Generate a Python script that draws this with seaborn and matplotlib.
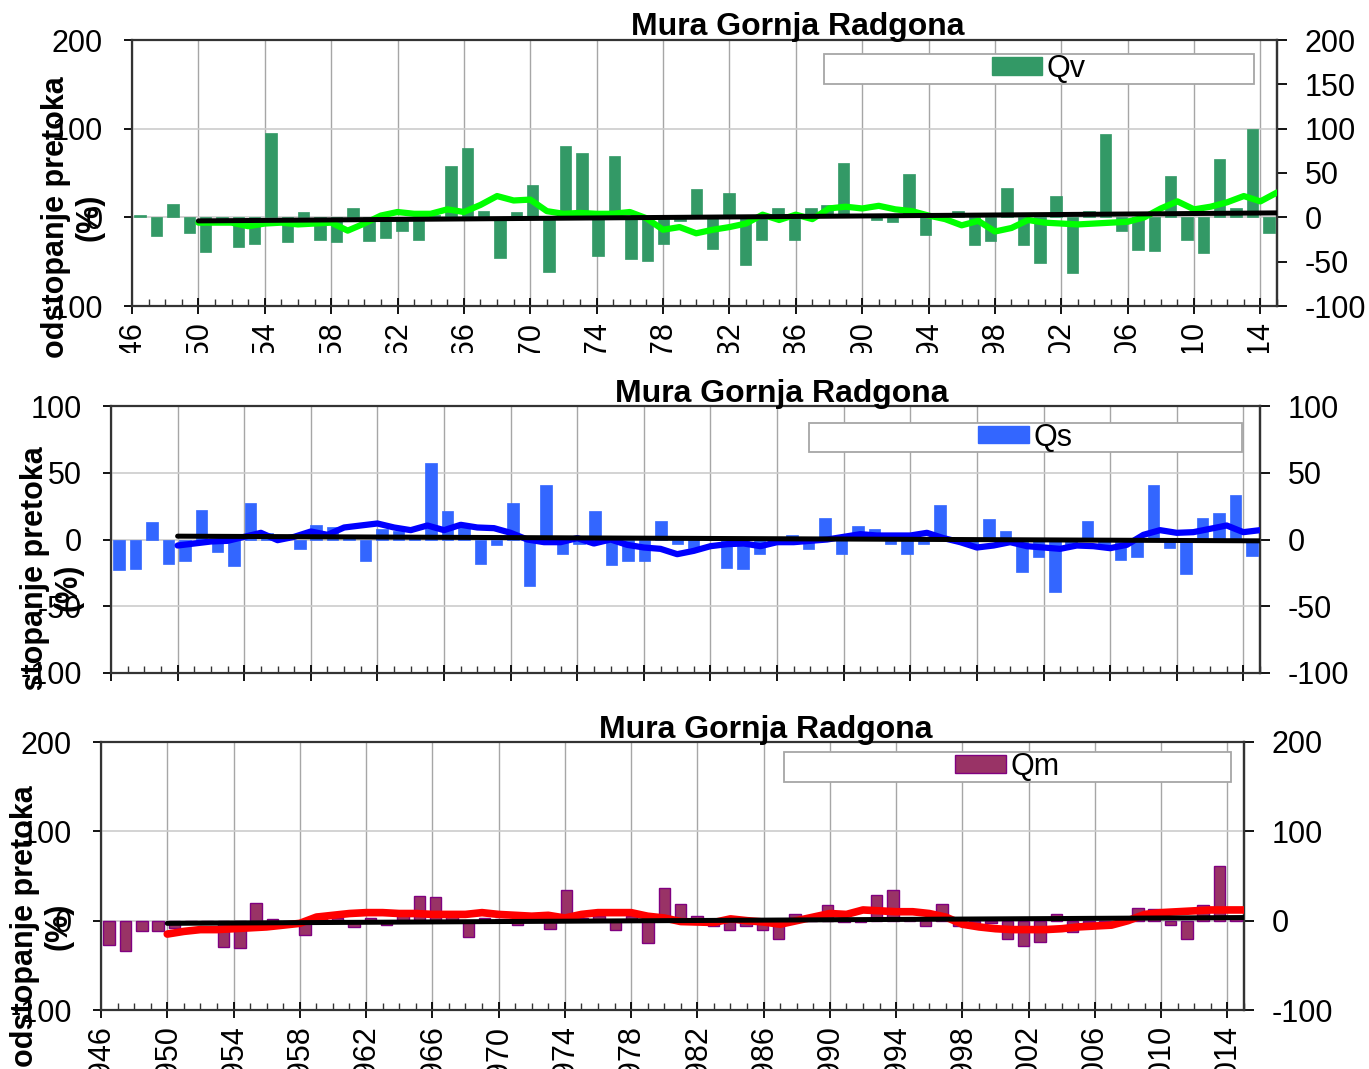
import matplotlib
matplotlib.use("Agg")
import matplotlib.pyplot as plt
import seaborn as sns
import pandas as pd
from matplotlib.patches import Patch, Rectangle
from matplotlib.transforms import Bbox, TransformedBbox
from matplotlib.ticker import MultipleLocator, FixedLocator

sns.set_theme(style="white")
plt.rcParams["font.family"] = ["Liberation Sans", "DejaVu Sans"]
plt.rcParams["axes.unicode_minus"] = False
plt.rcParams["text.color"] = "black"

# ---------------- data ----------------
bar_years = list(range(1946, 2016))
smooth_years = list(range(1950, 2016))
trend_years = [1950, 2015]
tick_years = list(range(1946, 2016, 4))

title = "Mura Gornja Radgona"
ylabel = "odstopanje pretoka\n(%)"

qv = [3, -21, 15, -18, -39, -3, -34, -30, 95, -28,
      6, -25, -28, 11, -27, -23, -15, -25, 3, 58,
      78, 7, -46, 6, 36, -62, 81, 73, -44, 69,
      -47, -49, -30, -4, 32, -36, 27, -54, -26, 10,
      -25, 11, 14, 61, 2, -3, -5, 49, -20, -2,
      7, -31, -27, 33, -31, -51, 24, -63, 7, 94,
      -15, -37, -38, 47, -26, -40, 66, 10, 100, -18]
qv_smooth = [-6, -6, -6, -10, -7, -6, -8, -7, -6, -15,
             -7, 2, 6, 4, 4, 9, 6, 14, 24, 19,
             20, 7, 4, 5, 4, 4, 6, -1, -14, -11,
             -18, -14, -11, -7, 3, -3, 3, -2, 10, 12,
             10, 13, 9, 7, 2, -2, -9, -4, -16, -12,
             -3, -6, -7, -8, -7, -6, -5, 0, 10, 18,
             9, 12, 17, 24, 18, 28]
qv_trend = [-4, 5]

qs = [-23, -22, 13, -18, -16, 22, -9, -20, 27, 5,
      2, -7, 11, 9, 3, -16, 8, 6, 3, 57,
      21, 9, -18, -4, 27, -35, 41, -11, -3, 21,
      -19, -16, -16, 14, -3, -6, 2, -21, -22, -11,
      -3, 3, -7, 16, -11, 10, 8, -3, -11, -3,
      26, 0, -5, 15, 6, -24, -13, -39, -5, 14,
      -5, -15, -13, 41, -6, -26, 16, 20, 33, -12]
qs_smooth = [-4.5, -3, -1.5, -1, 2, 5, -0.5, 2, 6, 3.5,
             9, 10.5, 12, 9, 7, 10.5, 7, 11, 9, 8.5,
             5, 0, -2, -2, 1, -3, 0, -4, -6, -7,
             -11, -8.5, -5, -3.5, -3, -5, -2, -2, -1, 0,
             2, 4, 3, 3, 3, 5, 1, -2, -6, -4.5,
             -2, -5, -6, -7, -4.5, -5, -6.5, -4, 3.5, 7,
             5, 5.5, 8, 10.5, 5.5, 7]
qs_trend = [2.5, -1]

qm = [-27, -34, -12, -12, -8, -3, -3, -29, -31, 20,
      2, -2, -16, 8, 3, -7, 3, -5, 11, 28,
      27, 5, -18, 3, 2, -5, 7, -9, 34, 3,
      5, -10, 5, -25, 37, 19, 5, -6, -10, -6,
      -11, -21, 7, 2, 18, -2, -1, 29, 34, 3,
      -6, 19, -6, -3, -3, -21, -28, -24, 7, -13,
      -3, -3, 2, 14, 13, -5, -21, 17, 61, 2]
qm_smooth = [-15, -12, -10, -10, -9, -8, -7, -5, -3, 4,
             6, 8, 9, 9, 8, 8, 7, 7, 7, 9,
             7, 6, 5, 6, 3, 7, 9, 9, 9, 5,
             3, -1, -1.5, -2, 2, 0, -1.5, -4, 0, 4,
             8, 7, 12, 11, 10, 10, 8, 4, -4, -7,
             -9, -10, -10, -10, -9, -7, -6, -5, 0, 7,
             9, 10, 11, 12, 12, 12]
qm_trend = [-3, 3.5]

# ---------------- figure ----------------
W, H = 1369, 1069
fig = plt.figure(figsize=(W / 100, H / 100), dpi=100)
FS = 22


def px_rect(l, t, r, b):
    return [l / W, 1 - b / H, (r - l) / W, (b - t) / H]


def fig_clip(y_px_bottom):
    return TransformedBbox(Bbox([[0, 1 - y_px_bottom / H], [1, 1]]), fig.transFigure)


def panel(rect, bars, smooth, trend, ylim, lticks, rticks, bar_fc, bar_ec, bar_lw,
          line_c, line_lw, name, legbox, show_xlabels, xclip=None):
    ax = fig.add_axes(rect)
    ax.set_xlim(1946, 2015)
    ax.set_ylim(*ylim)
    ax.xaxis.set_major_locator(FixedLocator(tick_years))
    ax.xaxis.set_minor_locator(MultipleLocator(1))
    ax.set_yticks(lticks)
    ax.grid(axis="x", which="major", color="#a6a6a6", lw=1)
    ax.grid(axis="y", which="major", color="#cccccc", lw=1.2)
    ax.tick_params(axis="x", which="major", direction="inout", length=11, width=1.3,
                   colors="black", labelsize=FS, pad=5, labelrotation=90,
                   top=False, bottom=True)
    ax.tick_params(axis="x", which="minor", direction="in", length=5, width=1,
                   top=False, bottom=True, colors="#333333")
    ax.tick_params(axis="y", direction="out", length=6, width=1.3, labelsize=FS,
                   pad=15, left=True, colors="black")
    for s in ax.spines.values():
        s.set_color("#333333")
        s.set_linewidth(1.6)
    if show_xlabels:
        ax.set_xticklabels([str(y) for y in tick_years])
        if xclip is not None:
            for lbl in ax.get_xticklabels():
                lbl.set_clip_box(fig_clip(xclip))
                lbl.set_clip_on(True)
    else:
        ax.tick_params(axis="x", labelbottom=False)

    sec = ax.secondary_yaxis("right")
    sec.set_yticks(rticks)
    sec.tick_params(direction="out", length=7, width=1.3, labelsize=FS, pad=13,
                    colors="black")
    sec.spines["right"].set_color("#333333")
    sec.spines["right"].set_linewidth(1.6)

    # bars on category axis
    axb = ax.twiny()
    df = pd.DataFrame({"year": bar_years, "val": bars})
    sns.barplot(data=df, x="year", y="val", ax=axb, color=bar_fc, saturation=1,
                width=0.7, edgecolor=bar_ec, linewidth=bar_lw)
    axb.set_xlim(-0.5, len(bar_years) - 0.5)
    axb.xaxis.set_visible(False)
    for s in axb.spines.values():
        s.set_visible(False)

    # smoothed and trend lines on year axis
    axl = ax.twiny()
    sns.lineplot(x=smooth_years, y=smooth, ax=axl, color=line_c, lw=line_lw)
    sns.lineplot(x=trend_years, y=trend, ax=axl, color="black", lw=3.6)
    for ln in axl.get_lines():
        ln.set_solid_joinstyle("round")
        ln.set_solid_capstyle("round")
    axl.set_xlim(1946, 2015)
    axl.xaxis.set_visible(False)
    for s in axl.spines.values():
        s.set_visible(False)

    x0, y0, x1, y1 = legbox
    axl.add_patch(Rectangle((x0, y0), x1 - x0, y1 - y0, transform=axl.transAxes,
                            facecolor="white", edgecolor="#a6a6a6", lw=1.3,
                            zorder=5, clip_on=False))
    leg = axl.legend(handles=[Patch(facecolor=bar_fc, edgecolor=bar_ec, label=name)],
                     loc="center", bbox_to_anchor=((x0 + x1) / 2, (y0 + y1) / 2),
                     frameon=False, fontsize=FS, handlelength=1.65, handleheight=0.5,
                     handletextpad=0.15, borderpad=0, borderaxespad=0,
                     labelcolor="black")
    leg.set_zorder(6)
    ax.set_ylim(*ylim)
    return ax


panel(px_rect(132, 40, 1277, 306), qv, qv_smooth, qv_trend, (-100, 200),
      [-100, 0, 100, 200], [-100, -50, 0, 50, 100, 150, 200],
      "#339966", "#339966", 0.5, "#00ff00", 4.5, "Qv",
      (0.604, 0.835, 0.980, 0.947), True, xclip=353)

panel(px_rect(111, 406, 1260, 673), qs, qs_smooth, qs_trend, (-100, 100),
      [-100, -50, 0, 50, 100], [-100, -50, 0, 50, 100],
      "#3366ff", "#3366ff", 0.5, "#0000ff", 4.5, "Qs",
      (0.6075, 0.828, 0.984, 0.936), False)

panel(px_rect(101, 742, 1244, 1010), qm, qm_smooth, qm_trend, (-100, 200),
      [-100, 0, 100, 200], [-100, 0, 100, 200],
      "#993366", "#800080", 1.0, "#ff0000", 5.5, "Qm",
      (0.5976, 0.851, 0.9886, 0.963), True)

# titles
for cx, base in [(798, 35), (782, 402), (766, 738)]:
    fig.text(cx / W, 1 - base / H, title, ha="center", va="baseline",
             fontsize=23, fontweight="bold", color="black")

# y labels
for cx, cy, clip in [(73, 217, None), (52, 587, 690), (42, 926, None)]:
    t = fig.text(cx / W, 1 - cy / H, ylabel, rotation=90, ha="center", va="center",
                 multialignment="center", fontsize=FS, fontweight="bold",
                 linespacing=1.15, color="black")
    if clip is not None:
        t.set_clip_box(fig_clip(clip))
        t.set_clip_on(True)

fig.savefig("out.png", dpi=100)
